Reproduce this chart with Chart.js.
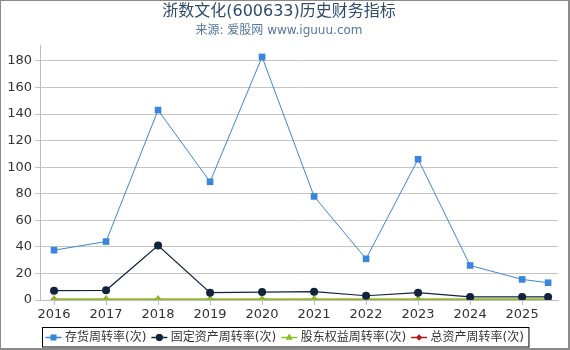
<!DOCTYPE html>
<html><head><meta charset="utf-8">
<script src="https://cdn.jsdelivr.net/npm/chart.js@4"></script>
<style>html,body{margin:0;padding:0;background:#fff;}#wrap{width:570px;height:350px;}</style>
</head><body><div id="wrap"><canvas id="c" width="570" height="350"></canvas></div>
<script>
const periods = [2016, 2017, 2018, 2019, 2020, 2021, 2022, 2023, 2024, 2025, 2025.5];
const yearTicks = [2016, 2017, 2018, 2019, 2020, 2021, 2022, 2023, 2024, 2025];
const yTicks = [0, 20, 40, 60, 80, 100, 120, 140, 160, 180];
const inventoryTurnover = [37.5, 44, 143, 89, 183, 78, 31, 106, 26, 15.5, 13];
const fixedAssetTurnover = [7, 7.3, 41, 5.5, 6, 6.3, 3.2, 5.5, 2.3, 2.3, 2.3];
const equityTurnover = [0.55, 0.55, 0.55, 0.55, 0.55, 0.55, 0.55, 0.55, 0.55, 0.55, 0.55];
const totalAssetTurnover = [0.3, 0.3, 0.3, 0.3, 0.3, 0.3, 0.3, 0.3, 0.3, 0.3, 0.3];
const seriesNames = ['存货周转率(次)', '固定资产周转率(次)', '股东权益周转率(次)', '总资产周转率(次)'];

const toPts = arr => arr.map((v, i) => ({x: periods[i], y: v}));
const FONT = 'DejaVu Sans, "Noto Sans CJK SC", sans-serif';

const datasets = [
  {label: seriesNames[3], data: toPts(totalAssetTurnover), borderColor: '#b01c1c', backgroundColor: '#b01c1c', pointStyle: 'rectRot', pointRadius: 3.5, borderWidth: 1.5, order: 4},
  {label: seriesNames[2], data: toPts(equityTurnover), borderColor: '#8cbf26', backgroundColor: '#8cbf26', pointStyle: 'triangle', pointRadius: 4.5, borderWidth: 1.5, order: 3},
  {label: seriesNames[1], data: toPts(fixedAssetTurnover), borderColor: '#11233d', backgroundColor: '#11233d', pointStyle: 'circle', pointRadius: 4, borderWidth: 1.2, order: 2},
  {label: seriesNames[0], data: toPts(inventoryTurnover), borderColor: '#3b86dc', backgroundColor: '#3b86dc', pointStyle: 'rect', pointRadius: 4.7, borderWidth: 1, order: 1}
];
datasets.forEach(d => { d.pointBorderWidth = 0; d.tension = 0; d.pointHoverRadius = d.pointRadius; });

const legendOrder = [3, 2, 1, 0];

const framePlugin = {
  id: 'frame',
  afterDraw(chart) {
    const ctx = chart.ctx;
    ctx.save();
    ctx.fillStyle = '#8a8a8a';
    ctx.fillRect(0, 0, 570, 1);
    ctx.fillRect(0, 0, 1, 350);
    ctx.fillRect(568, 0, 2, 350);
    ctx.fillRect(0, 348, 570, 2);
    ctx.font = '12px ' + FONT;
    ctx.textBaseline = 'middle';
    let x = 45.5;
    const yc = 337.5;
    const items = legendOrder.map(i => datasets[i]);
    items.forEach(d => {
      ctx.strokeStyle = d.borderColor;
      ctx.lineWidth = 1.5;
      ctx.beginPath(); ctx.moveTo(x, yc); ctx.lineTo(x + 16, yc); ctx.stroke();
      ctx.fillStyle = d.backgroundColor;
      Chart.helpers.drawPoint(ctx, {pointStyle: d.pointStyle, radius: d.pointRadius * 0.85, borderWidth: 0, rotation: 0}, x + 8, yc);
      ctx.fill();
      x += 19.5;
      ctx.fillStyle = '#333';
      ctx.fillText(d.label, x, yc);
      x += ctx.measureText(d.label).width + 5;
    });
    ctx.strokeStyle = '#000';
    ctx.lineWidth = 1;
    ctx.strokeRect(42.5, 327.5, x - 42.5, 19.5);
    ctx.restore();
  }
};

new Chart(document.getElementById('c'), {
  type: 'line',
  data: {datasets},
  options: {
    responsive: false,
    animation: false,
    layout: {padding: {left: 0, right: 12, top: 0, bottom: 0}},
    plugins: {
      legend: {display: false},
      tooltip: {enabled: false},
      title: {display: true, text: '浙数文化(600633)历史财务指标', color: '#2f4b6b', font: {family: FONT, size: 16, weight: 'normal'}, padding: {top: 2.5, bottom: 0}},
      subtitle: {display: true, text: '来源: 爱股网 www.iguuu.com', color: '#5676a0', font: {family: FONT, size: 12, weight: 'normal'}, padding: {top: 1.5, bottom: 7.4}}
    },
    scales: {
      x: {
        type: 'linear', min: 2015.73, max: 2025.69,
        afterBuildTicks: s => { s.ticks = yearTicks.map(v => ({value: v})); },
        afterFit: s => { s.height = 50; },
        ticks: {color: '#333', font: {family: FONT, size: 13}, padding: 2, maxRotation: 0, callback: v => String(v)},
        grid: {drawOnChartArea: false, drawTicks: true, tickLength: 5, color: '#bdbdbd'},
        border: {display: true, color: '#bdbdbd'}
      },
      y: {
        min: 0, max: 192,
        afterBuildTicks: s => { s.ticks = yTicks.map(v => ({value: v})); },
        afterFit: s => { s.width = 40; },
        ticks: {color: '#333', font: {family: FONT, size: 13}, padding: 3},
        grid: {color: '#c4c4c4', drawTicks: true, tickLength: 5},
        border: {display: true, color: '#bdbdbd'}
      }
    }
  },
  plugins: [framePlugin]
});
</script></body></html>
